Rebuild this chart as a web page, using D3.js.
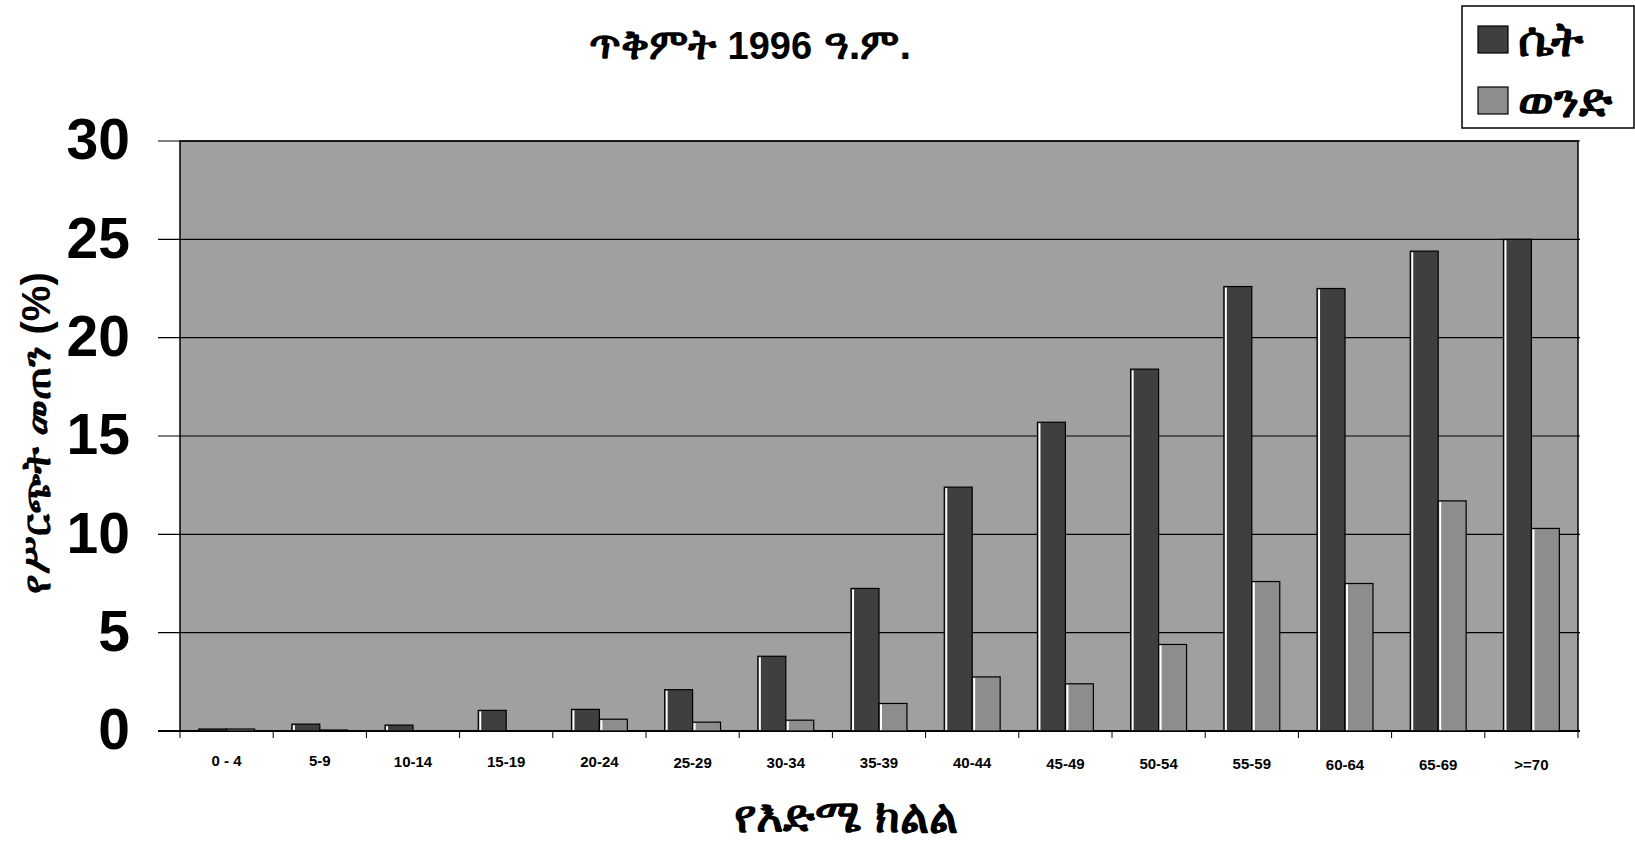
<!DOCTYPE html>
<html lang="am">
  <head>
    <meta charset="UTF-8">
    <title>ጥቅምት 1996 ዓ.ም.</title>
    <script type="text/javascript" src="https://cdn.jsdelivr.net/npm/d3@7"></script>
    <style>
      body { margin: 0; background: #fff; }
      text { font-family: "Liberation Sans", Arial, "Noto Sans", sans-serif; font-weight: bold; fill: #000; }
    </style>
  </head>
  <body>
    <script type="text/javascript">
      let w = 1635;
      let h = 848;

      // age groups and series
      let ageGroups = ['0 - 4', '5-9', '10-14', '15-19', '20-24', '25-29', '30-34',
                       '35-39', '40-44', '45-49', '50-54', '55-59', '60-64', '65-69', '>=70'];
      let seriesNames = ['ሴት', 'ወንድ'];
      let female = [0.1, 0.35, 0.3, 1.05, 1.1, 2.1, 3.8, 7.25, 12.4, 15.7, 18.4, 22.6, 22.5, 24.4, 25.0];
      let male   = [0.1, 0.05, 0, 0, 0.6, 0.45, 0.55, 1.4, 2.75, 2.4, 4.4, 7.6, 7.5, 11.7, 10.3];
      let yTicks = [0, 5, 10, 15, 20, 25, 30];

      let colors = { 'ሴት': '#3f3f3f', 'ወንድ': '#8d8d8d' };

      let plot = { left: 180, right: 1578, top: 141, bottom: 731 };

      let xScale = d3.scaleBand()
                     .domain(ageGroups)
                     .range([plot.left, plot.right]);
      let xInner = d3.scaleBand()
                     .domain(seriesNames)
                     .range([0, xScale.bandwidth()])
                     .paddingOuter(0.667);
      let yScale = d3.scaleLinear()
                     .domain([0, 30])
                     .range([plot.bottom, plot.top]);

      let svg = d3.select('body')
                  .append('svg')
                  .attr('width', w)
                  .attr('height', h);

      // back wall
      svg.append('rect')
         .attr('x', plot.left)
         .attr('y', plot.top)
         .attr('width', plot.right - plot.left)
         .attr('height', plot.bottom - plot.top)
         .attr('fill', '#a0a0a0')
         .attr('stroke', '#000')
         .attr('stroke-width', 1.5);

      // gridlines (stick out on the left as ticks)
      svg.selectAll('line.grid')
         .data(yTicks)
         .enter()
         .append('line')
         .attr('class', 'grid')
         .attr('x1', 158)
         .attr('x2', plot.right + 2)
         .attr('y1', d => yScale(d))
         .attr('y2', d => yScale(d))
         .attr('stroke', '#000')
         .attr('stroke-width', d => d === 0 ? 2 : 1.2);

      // y tick labels
      svg.selectAll('text.ylab')
         .data(yTicks)
         .enter()
         .append('text')
         .attr('class', 'ylab')
         .attr('x', 130)
         .attr('y', d => yScale(d))
         .attr('dy', '0.32em')
         .attr('text-anchor', 'end')
         .attr('font-size', 57)
         .text(d => d);

      // x ticks at category boundaries
      let bounds = ageGroups.map(d => xScale(d)).concat([plot.right]);
      svg.selectAll('line.xtick')
         .data(bounds)
         .enter()
         .append('line')
         .attr('class', 'xtick')
         .attr('x1', d => d)
         .attr('x2', d => d)
         .attr('y1', plot.bottom)
         .attr('y2', plot.bottom + 7)
         .attr('stroke', '#000')
         .attr('stroke-width', 1);

      // bars
      let rows = [];
      ageGroups.forEach((g, i) => {
        rows.push({ group: g, series: 'ሴት', value: female[i] });
        rows.push({ group: g, series: 'ወንድ', value: male[i] });
      });

      let bars = svg.selectAll('g.bar')
                    .data(rows)
                    .enter()
                    .append('g')
                    .attr('class', 'bar');

      bars.append('rect')
          .attr('x', d => xScale(d.group) + xInner(d.series))
          .attr('y', d => yScale(d.value))
          .attr('width', xInner.bandwidth())
          .attr('height', d => plot.bottom - yScale(d.value))
          .attr('fill', d => colors[d.series])
          .attr('stroke', '#000')
          .attr('stroke-width', 1.2);

      // white highlight on the left edge (3D look)
      bars.filter(d => d.value > 0.2)
          .append('line')
          .attr('x1', d => xScale(d.group) + xInner(d.series) + 2)
          .attr('x2', d => xScale(d.group) + xInner(d.series) + 2)
          .attr('y1', d => yScale(d.value) + 1)
          .attr('y2', plot.bottom - 1)
          .attr('stroke', '#fff')
          .attr('stroke-width', 2);

      // x tick labels
      svg.selectAll('text.xlab')
         .data(ageGroups)
         .enter()
         .append('text')
         .attr('class', 'xlab')
         .attr('x', d => xScale(d) + xScale.bandwidth() / 2)
         .attr('y', (d, i) => 766 + i * 0.3)
         .attr('text-anchor', 'middle')
         .attr('font-size', 15)
         .text(d => d);

      // title
      let title = svg.append('text')
                     .attr('x', 750)
                     .attr('y', 59)
                     .attr('text-anchor', 'middle');
      title.append('tspan').attr('font-size', 42).text('ጥቅምት ');
      title.append('tspan').attr('font-size', 38).text('1996');
      title.append('tspan').attr('font-size', 42).text(' ዓ.ም.');

      // axis titles
      svg.append('text')
         .attr('x', 846)
         .attr('y', 832)
         .attr('text-anchor', 'middle')
         .attr('font-size', 46)
         .text('የእድሜ ክልል');

      svg.append('text')
         .attr('transform', 'translate(50,433) rotate(-90)')
         .attr('text-anchor', 'middle')
         .attr('font-size', 40)
         .text('የሥርጭት መጠን (%)');

      // legend
      let legend = svg.append('g');
      legend.append('rect')
            .attr('x', 1462)
            .attr('y', 6)
            .attr('width', 172)
            .attr('height', 122)
            .attr('fill', '#fff')
            .attr('stroke', '#000')
            .attr('stroke-width', 1.5);

      let items = legend.selectAll('g.item')
                        .data(seriesNames)
                        .enter()
                        .append('g')
                        .attr('class', 'item')
                        .attr('transform', (d, i) => `translate(1478,${26 + i * 61})`);
      items.append('rect')
           .attr('width', 30)
           .attr('height', 27)
           .attr('fill', d => colors[d])
           .attr('stroke', '#000')
           .attr('stroke-width', 1.2);
      items.append('text')
           .attr('x', 40)
           .attr('y', 30)
           .attr('font-size', 48)
           .text(d => d);
    </script>
  </body>
</html>
